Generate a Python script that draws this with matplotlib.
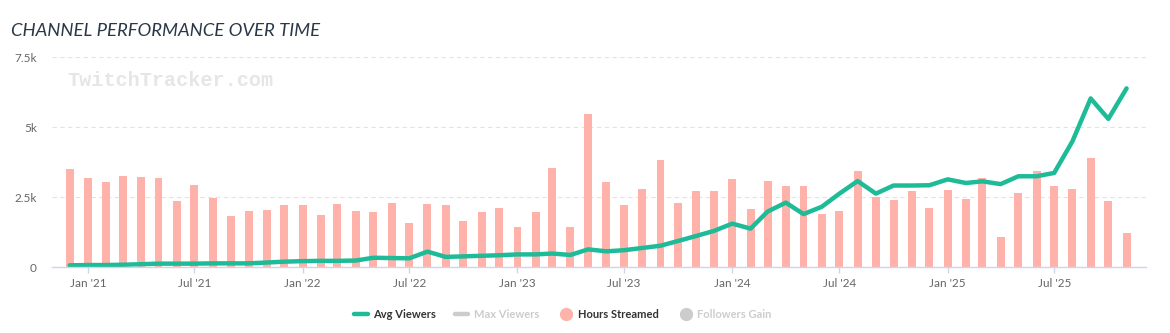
import datetime as dt
import matplotlib
matplotlib.use("Agg")
import matplotlib.pyplot as plt
import matplotlib.dates as mdates
from matplotlib.lines import Line2D

# monthly data, Dec 2020 .. Nov 2025
start_year, start_month, n_months = 2020, 12, 60

hours_streamed = [3.49, 3.17, 3.03, 3.24, 3.20, 3.17, 2.35, 2.92, 2.46, 1.82, 2.00, 2.03, 2.21,
                  2.21, 1.86, 2.25, 2.00, 1.96, 2.28, 1.57, 2.25, 2.21, 1.64, 1.96, 2.10,
                  1.43, 1.96, 3.52, 1.43, 5.47, 3.03, 2.21, 2.78, 3.81, 2.28, 2.71, 2.71,
                  3.13, 2.07, 3.06, 2.88, 2.88, 1.89, 2.00, 3.42, 2.49, 2.39, 2.71, 2.10,
                  2.74, 2.42, 3.17, 1.08, 2.64, 3.42, 2.88, 2.78, 3.91, 2.35, 1.22]

avg_viewers = [0.06, 0.07, 0.07, 0.08, 0.10, 0.12, 0.12, 0.12, 0.13, 0.13, 0.13, 0.16, 0.19,
               0.21, 0.22, 0.22, 0.23, 0.33, 0.32, 0.31, 0.55, 0.36, 0.38, 0.40, 0.42,
               0.45, 0.45, 0.48, 0.43, 0.63, 0.56, 0.60, 0.68, 0.76, 0.93, 1.11, 1.29,
               1.55, 1.37, 1.98, 2.30, 1.89, 2.15, 2.62, 3.07, 2.62, 2.91, 2.91, 2.92,
               3.13, 3.00, 3.06, 2.96, 3.24, 3.24, 3.36, 4.49, 6.02, 5.29, 6.38]

y_ticks = [0, 2500, 5000, 7500]
y_tick_labels = ["0", "2.5k", "5k", "7.5k"]

months = []
y, m = start_year, start_month
for i in range(n_months):
    months.append(dt.date(y, m, 1))
    m += 1
    if m > 12:
        m = 1
        y += 1

x = mdates.date2num(months)
hours = [v * 1000 for v in hours_streamed]
viewers = [v * 1000 for v in avg_viewers]

teal = "#1dbb97"
salmon = "#ffb2aa"
axis_col = "#ccd6eb"

W, H = 1170, 333
fig = plt.figure(figsize=(W / 100, H / 100), dpi=100)
ax = fig.add_axes([52 / W, 1 - 267 / H, (1146 - 52) / W, (267 - 57) / H])

ax.bar(x, hours, width=13.5, color=salmon, zorder=2)
ax.plot(x, viewers, color=teal, lw=3.2, zorder=3, solid_joinstyle="round", solid_capstyle="round")

ax.set_xlim(mdates.date2num(dt.date(2020, 11, 1)), mdates.date2num(dt.date(2025, 12, 4)))
ax.set_ylim(0, 7500)

ax.set_yticks(y_ticks)
ax.set_yticklabels(y_tick_labels)
ax.tick_params(axis="y", length=0, pad=11, labelsize=8.5, labelcolor="#666666")
for t in ax.get_yticklabels():
    t.set_family("Lato")

ticks = [dt.date(yy, mm, 1) for yy in range(2021, 2026) for mm in (1, 7)]
ax.set_xticks(mdates.date2num(ticks))
ax.set_xticklabels([d.strftime("%b '%y") for d in ticks])
ax.tick_params(axis="x", length=4, width=1, color=axis_col, pad=4, labelsize=8.5, labelcolor="#666666")
for t in ax.get_xticklabels():
    t.set_family("Lato")

ax.grid(axis="y", color="#e3e3e3", lw=0.8, linestyle=(0, (4, 3)), zorder=0)
ax.set_axisbelow(True)
for s in ["top", "right", "left"]:
    ax.spines[s].set_visible(False)
ax.spines["bottom"].set_color(axis_col)
ax.spines["bottom"].set_linewidth(1)
ax.spines["bottom"].set_zorder(4)

# watermark
ax.text(67 / W, 1 - 80 / H, "TwitchTracker.com", transform=fig.transFigure,
        family="Liberation Mono", fontweight="bold", fontsize=14.5, color="#e6e6e6",
        va="center", ha="left", zorder=1)

# title
fig.text(11 / W, 1 - 31 / H, "CHANNEL PERFORMANCE OVER TIME", family="Lato", fontstyle="italic",
         fontsize=13.3, color="#2b3848", va="center", ha="left")

# legend drawn by hand
ly = 1 - 314 / H
fs = 8.0
fig.add_artist(Line2D([354 / W, 368 / W], [ly, ly], color=teal, lw=3.2, solid_capstyle="round"))
fig.text(373 / W, ly, "Avg Viewers", family="Lato", fontweight="bold", fontsize=fs, color="#333333", va="center")
fig.add_artist(Line2D([455 / W, 468 / W], [ly, ly], color="#cccccc", lw=3.2, solid_capstyle="round"))
fig.text(474 / W, ly, "Max Viewers", family="Lato", fontweight="bold", fontsize=fs, color="#cccccc", va="center")
fig.add_artist(Line2D([566 / W], [ly], marker="o", markersize=8.5, color=salmon, lw=0))
fig.text(578 / W, ly, "Hours Streamed", family="Lato", fontweight="bold", fontsize=fs, color="#333333", va="center")
fig.add_artist(Line2D([686 / W], [ly], marker="o", markersize=8.5, color="#cccccc", lw=0))
fig.text(697 / W, ly, "Followers Gain", family="Lato", fontweight="bold", fontsize=fs, color="#cccccc", va="center")

fig.savefig("out.png", dpi=100)
